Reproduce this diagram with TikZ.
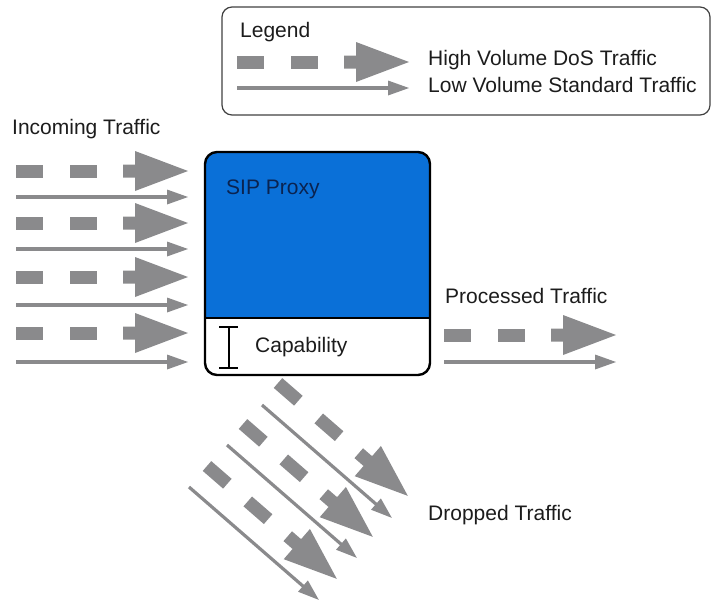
\documentclass[tikz,border=0pt]{standalone}
\usepackage{fontspec}
\setmainfont{Liberation Sans}
\definecolor{arrgray}{RGB}{138,138,140}
\definecolor{proxyblue}{RGB}{10,112,216}
\definecolor{txt}{RGB}{28,28,28}
\definecolor{navytxt}{RGB}{10,35,80}
\tikzset{
  lbl/.style={anchor=base west, inner sep=0pt, text=txt, font=\fontsize{21}{25}\selectfont},
  dos/.pic={
    \fill[arrgray] (0,-6.5) rectangle (27,6.5);
    \fill[arrgray] (54,-6.5) rectangle (81,6.5);
    \fill[arrgray] (107,-6.5) -- (119,-6.5) -- (119,-20) -- (172,0) -- (119,20) -- (119,6.5) -- (107,6.5) -- cycle;
  },
  std/.pic={
    \fill[arrgray] (0,-1.6) rectangle (152,1.6);
    \fill[arrgray] (151,-7.5) -- (172,0) -- (151,7.5) -- cycle;
  }
}
\begin{document}
\begin{tikzpicture}[x=1pt,y=-1pt]
\useasboundingbox (0,0) rectangle (711,600);
% Legend
\draw[line width=1.2pt, draw=black!75, rounded corners=10pt] (222,7) rectangle (710,115);
\node[lbl] (leg) at (240,37) {Legend};
\pic at (237,62) {dos};
\pic at (237,88) {std};
\node[lbl] (hv) at (428,65) {High Volume DoS Traffic};
\node[lbl] (lv) at (428,92) {Low Volume Standard Traffic};
% Incoming
\node[lbl] (inc) at (12,134) {Incoming Traffic};
\foreach \y in {171,223,277,333} { \pic at (16,\y) {dos}; }
\foreach \y in {197,249,305,362} { \pic at (16,\y) {std}; }
% SIP proxy box
\begin{scope}
  \clip[rounded corners=12pt] (205,152) rectangle (430,375);
  \fill[proxyblue] (205,152) rectangle (430,318);
  \fill[white] (205,318) rectangle (430,375);
\end{scope}
\draw[line width=1.5pt] (205,318) -- (430,318);
\draw[line width=2.4pt, rounded corners=12pt] (205,152) rectangle (430,375);
\node[lbl, text=navytxt] (sip) at (226,194) {SIP Proxy};
\node[lbl] (cap) at (255,352) {Capability};
\draw[line width=1.5pt] (229,327) -- (229,368);
\draw[line width=1.5pt] (219,327) -- (238,327);
\draw[line width=1.5pt] (219,368) -- (238,368);
% Processed
\node[lbl] (proc) at (445,303) {Processed Traffic};
\pic at (444,335) {dos};
\pic at (444,362) {std};
% Dropped
\pic[rotate=-41] at (278,383) {dos};
\pic[rotate=-41] at (243,424) {dos};
\pic[rotate=-41] at (207,466) {dos};
\pic[rotate=-41] at (262,405) {std};
\pic[rotate=-41] at (227,445) {std};
\pic[rotate=-41] at (189,487) {std};
\node[lbl] (drop) at (428,520) {Dropped Traffic};
\end{tikzpicture}
\end{document}
